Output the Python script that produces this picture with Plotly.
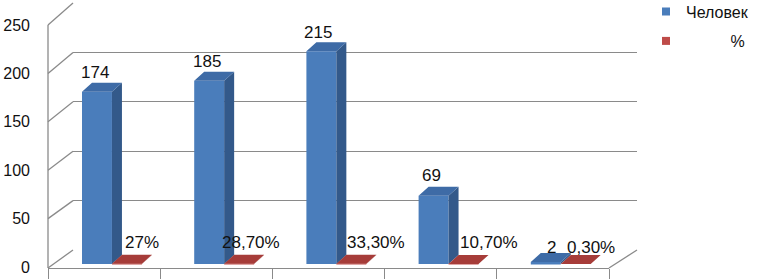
import plotly.graph_objects as go

# ---- data ----
categories = ["1", "2", "3", "4", "5"]
people = [174, 185, 215, 69, 2]
pct_values = [0.27, 0.287, 0.333, 0.107, 0.003]
pct_labels = ["27%", "28,70%", "33,30%", "10,70%", "0,30%"]
people_name = "Человек"
pct_name = "%"
y_ticks = [0, 50, 100, 150, 200, 250]

# ---- label nudges (pixels, layout only) ----
people_label_dx = [-2, -2, -3, -2, 6]
people_label_dy = [19, 19, 19, 20, 15]
pct_label_dx = [15, 12, 25, 25, 15]
pct_label_dy = [21, 21, 21, 21, 17]

# ---- geometry (pixels of a 763x279 canvas) ----
W, H = 763, 279
def fx(px): return px / W
def fy(py): return 1 - py / H

BLUE, BLUE_SIDE, BLUE_TOP = "#4a7dbb", "#33598a", "#3e6ba6"
RED, RED_SIDE, RED_TOP = "#be4b48", "#8e3533", "#a63c39"
GRID = "#8a8a8a"
FONT = "Liberation Sans, Arial, sans-serif"

bar_w = 0.267          # bar width in category units
off_blue = -0.197      # offset of blue front face from category centre
off_red = 0.070
dx = 10 / 112.2        # depth in category units
dy = 9 / 0.99          # depth in value units

idx = list(range(len(categories)))

fig = go.Figure()

# back wall grid subplot (x, y)
fig.add_trace(go.Scatter(x=[None], y=[None], xaxis="x", yaxis="y",
                         showlegend=False, hoverinfo="skip"))
# tick labels subplot (x2, y3)
fig.add_trace(go.Scatter(x=[None], y=[None], xaxis="x2", yaxis="y3",
                         showlegend=False, hoverinfo="skip"))


def faces(values, off):
    sx, sy, tx, ty = [], [], [], []
    for i, v in zip(idx, values):
        x0 = i + off
        x1 = x0 + bar_w
        sx += [x1, x1, x1 + dx, x1 + dx, x1, None]
        sy += [0, v, v + dy, dy, 0, None]
        tx += [x0, x1, x1 + dx, x0 + dx, x0, None]
        ty += [v, v, v + dy, v + dy, v, None]
    return sx, sy, tx, ty

NB = "\u00a0"
for vals, off, col, side, top, name, leg in [
        (people, off_blue, BLUE, BLUE_SIDE, BLUE_TOP, people_name, "legend"),
        (pct_values, off_red, RED, RED_SIDE, RED_TOP, NB * 10 + pct_name, "legend2")]:
    fig.add_trace(go.Bar(x=idx, y=vals, width=bar_w, offset=off, marker_color=col,
                         marker_line_width=0, name=name, showlegend=False,
                         xaxis="x2", yaxis="y2", hoverinfo="skip"))
    sx, sy, tx, ty = faces(vals, off)
    fig.add_trace(go.Scatter(x=sx, y=sy, fill="toself", fillcolor=side, mode="none",
                             xaxis="x2", yaxis="y2", showlegend=False, hoverinfo="skip"))
    fig.add_trace(go.Scatter(x=tx, y=ty, fill="toself", fillcolor=top, mode="none",
                             xaxis="x2", yaxis="y2", showlegend=False, hoverinfo="skip"))
    # legend entry with a small square swatch
    fig.add_trace(go.Scatter(x=[None], y=[None], mode="markers", name=name, legend=leg,
                             marker=dict(symbol="square", size=8, color=col),
                             xaxis="x2", yaxis="y2", hoverinfo="skip"))

annotations = []
for i, v, ddx, ddy in zip(idx, people, people_label_dx, people_label_dy):
    annotations.append(dict(x=i + off_blue + bar_w / 2, y=v, xref="x2", yref="y2",
                            text=str(v), showarrow=False, yanchor="middle",
                            xshift=ddx, yshift=ddy,
                            font=dict(size=17, color="#111", family=FONT)))
for i, v, t, ddx, ddy in zip(idx, pct_values, pct_labels, pct_label_dx, pct_label_dy):
    annotations.append(dict(x=i + off_red + bar_w / 2, y=v, xref="x2", yref="y2",
                            text=t, showarrow=False, xanchor="center", xshift=ddx,
                            yanchor="middle", yshift=ddy,
                            font=dict(size=17, color="#111", family=FONT)))

# wall / floor outline
shapes = []
front_x, back_x = 48, 73
def front_y(v): return 267 - 0.968 * v
def back_y(v): return 250 - 0.988 * v
LW = 1.3
shapes.append(dict(type="line", xref="paper", yref="paper", x0=fx(front_x), x1=fx(front_x),
                   y0=fy(268), y1=fy(front_y(250)), line=dict(color=GRID, width=LW), layer="below"))
for v in y_ticks:
    shapes.append(dict(type="line", xref="paper", yref="paper",
                       x0=fx(front_x), y0=fy(front_y(v) + (1 if v == 0 else 0)),
                       x1=fx(back_x), y1=fy(back_y(v)),
                       line=dict(color=GRID, width=LW), layer="below"))
shapes.append(dict(type="line", xref="paper", yref="paper", x0=fx(609), y0=fy(268),
                   x1=fx(637), y1=fy(back_y(0)), line=dict(color=GRID, width=LW), layer="below"))

fig.update_layout(
    width=W, height=H, margin=dict(l=0, r=0, t=0, b=0, autoexpand=False),
    paper_bgcolor="white", plot_bgcolor="rgba(0,0,0,0)",
    barmode="overlay", showlegend=True,
    font=dict(family=FONT, size=16, color="#111"),
    xaxis=dict(domain=[fx(73), fx(637)], range=[-0.5, 4.5], visible=False,
               anchor="y", fixedrange=True),
    yaxis=dict(domain=[fy(250.988), fy(2.012)], range=[-1, 251], anchor="x",
               tickvals=y_ticks, showticklabels=False, ticks="", showgrid=True,
               gridcolor=GRID, gridwidth=LW, zeroline=False, showline=False),
    xaxis2=dict(domain=[fx(48), fx(609)], range=[-0.5, 4.5], anchor="y2",
                tickvals=[-0.5, 0.5, 1.5, 2.5, 3.5, 4.5], ticks="outside", ticklen=12,
                tickcolor=GRID, tickwidth=LW, showticklabels=False, showgrid=False,
                zeroline=False, showline=True, linecolor=GRID, linewidth=LW),
    yaxis2=dict(domain=[fy(268), fy(16.5)], range=[-4.04, 250], anchor="x2",
                visible=False, showgrid=False, zeroline=False),
    yaxis3=dict(domain=[fy(267), fy(25)], range=[0, 250], anchor="free",
                position=fx(48), tickvals=y_ticks, ticks="", showgrid=False,
                zeroline=False, showline=False, ticklabelstandoff=18,
                tickfont=dict(size=16, color="#111", family=FONT)),
    legend=dict(x=fx(646), y=fy(-5.5), xanchor="left", yanchor="top",
                bgcolor="rgba(0,0,0,0)", font=dict(size=16, family=FONT)),
    legend2=dict(x=fx(646), y=fy(24), xanchor="left", yanchor="top",
                 bgcolor="rgba(0,0,0,0)", font=dict(size=16, family=FONT)),
    annotations=annotations, shapes=shapes,
)

# the page's default 8px body margin would shift the figure; remove it
fig.write_html("out.html", config={"displayModeBar": False},
               post_script="document.body.style.margin='0';document.body.style.overflow='hidden';")
